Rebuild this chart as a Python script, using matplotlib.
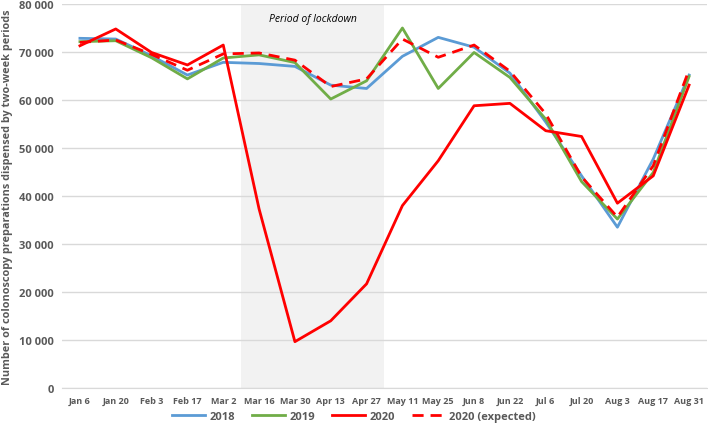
import matplotlib
matplotlib.use("Agg")
import matplotlib.pyplot as plt
from matplotlib.ticker import FuncFormatter

periods = ["Jan 6", "Jan 20", "Feb 3", "Feb 17", "Mar 2", "Mar 16", "Mar 30",
           "Apr 13", "Apr 27", "May 11", "May 25", "Jun 8", "Jun 22", "Jul 6",
           "Jul 20", "Aug 3", "Aug 17", "Aug 31"]

y2018 = [72850, 72700, 69200, 65200, 67850, 67600, 67000, 63100, 62400,
         69100, 73050, 71000, 65600, 55400, 44200, 33500, 47700, 65200]
y2019 = [72150, 72350, 68800, 64400, 68750, 69400, 67800, 60200, 64000,
         75000, 62400, 69900, 64700, 56000, 43000, 35200, 44900, 64900]
y2020 = [71300, 74800, 69900, 67300, 71450, 37300, 9650, 14000, 21700,
         38000, 47350, 58800, 59300, 53600, 52400, 38500, 44200, 63100]
y2020_expected = [72000, 72500, 69500, 66200, 69600, 69800, 68300, 62800, 64400,
                  72700, 68900, 71450, 66000, 57100, 44000, 35600, 46300, 66300]

lockdown_start = 4.5
lockdown_end = 8.5

GREY = "#595959"
FONT = ["Open Sans", "DejaVu Sans"]


def main():
    plt.rcParams["font.family"] = FONT

    fig = plt.figure(figsize=(7.08, 4.31), dpi=100)
    ax = fig.add_axes([62 / 708, 42 / 431, 645 / 708, 384 / 431])

    x = list(range(len(periods)))

    ax.axvspan(lockdown_start, lockdown_end, color="#f2f2f2", lw=0, zorder=0)
    ax.text((lockdown_start + lockdown_end) / 2, 77000, "Period of lockdown",
            ha="center", va="center", style="italic", fontsize=7.5,
            color="black")

    ax.plot(x, y2018, color="#5b9bd5", lw=2, label="2018", zorder=3)
    ax.plot(x, y2019, color="#70ad47", lw=2, label="2019", zorder=3)
    ax.plot(x, y2020, color="#ff0000", lw=2, label="2020", zorder=4)
    ax.plot(x, y2020_expected, color="#ff0000", lw=2, ls=(0, (4, 2.5)),
            label="2020 (expected)", zorder=4)

    ax.set_xlim(-0.5, len(periods) - 0.5)
    ax.set_ylim(0, 80000)
    ax.set_yticks(range(0, 80001, 10000))
    ax.yaxis.set_major_formatter(
        FuncFormatter(lambda v, _: f"{int(v):,}".replace(",", " "))
    )
    ax.set_xticks(x)
    ax.set_xticklabels(periods)

    ax.grid(axis="y", color="#d9d9d9", lw=1, zorder=1)
    ax.set_axisbelow(True)
    for side in ["top", "right", "left"]:
        ax.spines[side].set_visible(False)
    ax.spines["bottom"].set_color("#d9d9d9")

    ax.tick_params(axis="both", length=0, colors=GREY)
    ax.tick_params(axis="x", labelsize=6.5, pad=6)
    ax.tick_params(axis="y", labelsize=8, pad=6)
    for lab in ax.get_xticklabels() + ax.get_yticklabels():
        lab.set_fontweight("bold")

    ax.set_ylabel("Number of colonoscopy preparations dispensed by two-week periods",
                  fontsize=7.8, fontweight="bold", color=GREY, labelpad=4)

    handles, labels = ax.get_legend_handles_labels()
    leg = fig.legend(handles, labels, loc="center", bbox_to_anchor=(0.5, 0.032),
                     ncol=4, frameon=False, fontsize=8, handlelength=3.0,
                     columnspacing=1.5, handletextpad=0.4, borderaxespad=0)
    for t in leg.get_texts():
        t.set_color(GREY)
        t.set_fontweight("bold")

    fig.savefig("out.png", dpi=100)


if __name__ == "__main__":
    main()
